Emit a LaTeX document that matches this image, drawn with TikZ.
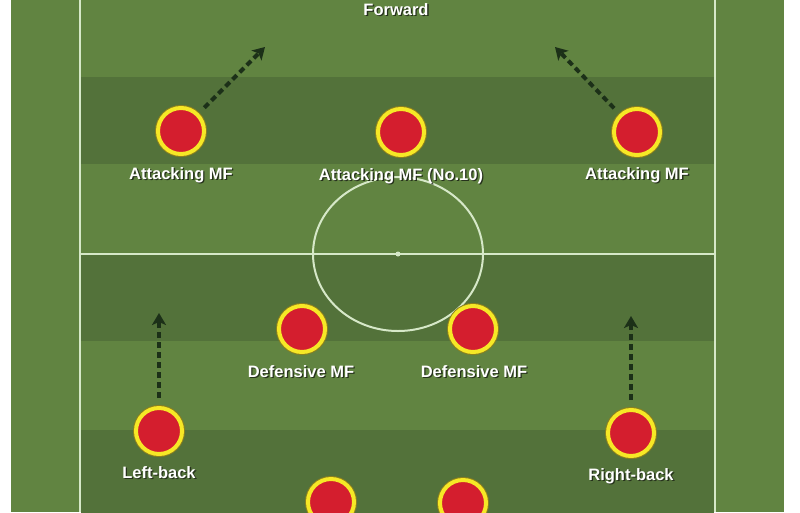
\documentclass[tikz,border=0pt]{standalone}
\usepackage{fontspec}
\setmainfont{Liberation Sans}
\usetikzlibrary{arrows.meta}
\definecolor{grass}{RGB}{97,132,65}
\definecolor{stripe}{RGB}{83,114,58}
\definecolor{chalk}{RGB}{214,232,200}
\definecolor{shirt}{RGB}{212,30,46}
\definecolor{rim}{RGB}{246,232,38}
\definecolor{rimedge}{RGB}{140,128,30}
\definecolor{runcol}{RGB}{28,48,24}
\definecolor{shade}{RGB}{38,50,28}
\newcommand{\shtext}[1]{\rlap{\kern1.3pt\raisebox{-1.3pt}{\color{shade}#1}}{\color{white}#1}}
\tikzset{
 player/.style={circle,minimum size=46pt,inner sep=0pt,fill=shirt,draw=rim,line width=4pt,
   preaction={draw=rimedge,line width=6pt}},
 role/.style={font=\fontsize{16.5}{18}\selectfont\bfseries,inner sep=0pt,anchor=base},
 run/.style={runcol,line width=4pt,dash pattern=on 6pt off 4pt,
   -{Stealth[length=12pt,width=14pt,inset=3pt]},shorten <=8pt}
}
\begin{document}
\begin{tikzpicture}[x=1pt,y=-1pt]
 \clip (0,0) rectangle (800,512);
 \fill [white] (0,0) rectangle (800,512);
 \fill [grass] (11,0) rectangle (784,512);
 % mown stripes
 \foreach \y in {77,254,430}
  \fill [stripe] (81,\y) rectangle (714,\y+87);
 % pitch markings
 \draw [chalk,line width=2pt] (80,0) -- (80,512) (715,0) -- (715,512);
 \draw [chalk,line width=2pt] (80,254) -- (715,254);
 \draw [chalk,line width=2pt] (398,254) ellipse [x radius=85,y radius=77];
 \fill [chalk] (398,254) circle (2.5);
 % players
 \node [player] (amL) at (181,131) {};
 \node [player] (amC) at (401,132) {};
 \node [player] (amR) at (637,132) {};
 \node [player] (dmL) at (302,329) {};
 \node [player] (dmR) at (473,329) {};
 \node [player] (lb) at (159,431) {};
 \node [player] (rb) at (631,433) {};
 \node [player] (cbL) at (331,502) {};
 \node [player] (cbR) at (463,503) {};
 % roles
 \node [role] (fwtxt) at (396,15) {\shtext{Forward}};
 \node [role] (amLtxt) at (181,179) {\shtext{Attacking MF}};
 \node [role] (amCtxt) at (401,180) {\shtext{Attacking MF (No.10)}};
 \node [role] (amRtxt) at (637,179) {\shtext{Attacking MF}};
 \node [role] (dmLtxt) at (301,377) {\shtext{Defensive MF}};
 \node [role] (dmRtxt) at (474,377) {\shtext{Defensive MF}};
 \node [role] (lbtxt) at (159,478) {\shtext{Left-back}};
 \node [role] (rbtxt) at (631,480) {\shtext{Right-back}};
 % runs
 \coordinate (amLgo) at (265,47);
 \coordinate (amRgo) at (555,47);
 \coordinate (lbgo) at (159,313);
 \coordinate (rbgo) at (631,316);
 \draw [run] (amL) -- (amLgo);
 \draw [run] (amR) -- (amRgo);
 \draw [run] (lb) -- (lbgo);
 \draw [run] (rb) -- (rbgo);
\end{tikzpicture}
\end{document}
